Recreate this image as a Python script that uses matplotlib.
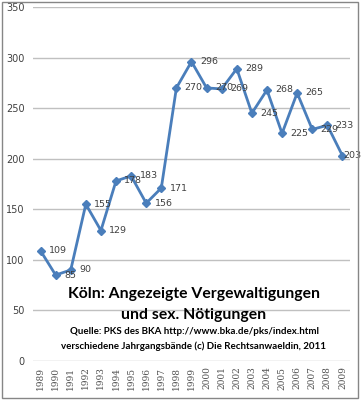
import matplotlib.pyplot as plt
from matplotlib.patches import Rectangle

years = [str(y) for y in range(1989, 2010)]
counts = [109, 85, 90, 155, 129, 178, 183, 156, 171, 270, 296,
          270, 269, 289, 245, 268, 225, 265, 229, 233, 203]

title_lines = ['Köln: Angezeigte Vergewaltigungen', 'und sex. Nötigungen']
source_lines = ['Quelle: PKS des BKA http://www.bka.de/pks/index.html',
                'verschiedene Jahrgangsbände (c) Die Rechtsanwaeldin, 2011']

plt.rcParams['font.family'] = ['Lato', 'DejaVu Sans']

fig = plt.figure(figsize=(3.61, 4.0), dpi=100)
ax = fig.add_axes([0.0914, 0.0975, 0.8781, 0.885])

x = range(len(years))
ax.plot(x, counts, color='#4a7ebb', lw=2, marker='D', ms=4.5,
        mfc='#4a7ebb', mec='#4a7ebb', zorder=3)
for xi, v in zip(x, counts):
    dx = 6 if xi < len(years) - 1 else 0.5
    ax.annotate(str(v), (xi, v), xytext=(dx, 0), textcoords='offset points',
                ha='left', va='center', fontsize=6.8, color='#404040',
                family='DejaVu Sans')

ax.set_xlim(-0.5, len(years) - 0.5)
ax.set_ylim(0, 350)
ax.set_yticks(range(0, 351, 50))
ax.set_xticks(list(x))
ax.set_xticklabels(years, rotation=90, fontsize=6.5, color='#505050',
                   family='DejaVu Serif')
ax.tick_params(axis='y', labelsize=7, colors='#404040', length=0, pad=6)
ax.tick_params(axis='x', length=0, pad=4)
for lab in ax.get_yticklabels():
    lab.set_family('DejaVu Sans')
ax.grid(axis='y', color='#c0c0c0', lw=1)
ax.set_axisbelow(True)
for s in ax.spines.values():
    s.set_visible(False)

fig.text(0.537, 0.265, title_lines[0], ha='center', va='center',
         fontsize=11.3, fontweight='bold', color='black')
fig.text(0.537, 0.212, title_lines[1], ha='center', va='center',
         fontsize=11.3, fontweight='bold', color='black')
fig.text(0.538, 0.170, source_lines[0], ha='center', va='center',
         fontsize=7, fontweight='bold', color='black')
fig.text(0.536, 0.135, source_lines[1], ha='center', va='center',
         fontsize=7, fontweight='bold', color='black')

fig.patches.append(Rectangle((0.006, 0.005), 0.986, 0.99, transform=fig.transFigure,
                             fill=False, ec='#868686', lw=1))

fig.savefig('out.png', dpi=100)
